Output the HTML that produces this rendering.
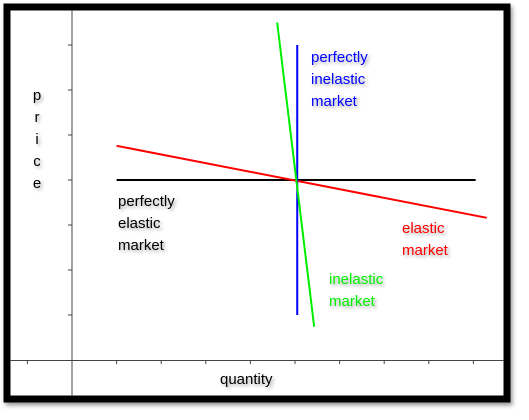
<!DOCTYPE html>
<html><head><meta charset="utf-8"><style>
body{margin:0;width:529px;height:415px;background:#fff;overflow:hidden;font-family:"Liberation Sans",sans-serif}
</style></head><body>
<svg width="529" height="415">
<defs><filter id="sh" x="-20%" y="-20%" width="140%" height="140%"><feDropShadow dx="2" dy="3" stdDeviation="2" flood-color="#000" flood-opacity="0.4"/></filter>
<filter id="ts"><feDropShadow dx="2" dy="2" stdDeviation="1.5" flood-color="#000" flood-opacity="0.35"/></filter></defs>
<rect x="7" y="7" width="500" height="392" fill="#fff" stroke="#000" stroke-width="7" filter="url(#sh)"/>
<g id="axes" stroke="#444" stroke-width="1"></g>
<g id="marks" stroke-width="2"></g>
<g id="labels" font-size="15" filter="url(#ts)"></g>
</svg>
<script>
const xTicks=[-1,1,2,3,4,5,6,7,8,9];
const yTicks=[1,2,3,4,5,6,7];
const curveNames=['perfectly-elastic','elastic','perfectly-inelastic','inelastic'];
const curveColors=['#000','#f00','#00f','#0e0'];
const curveQ=[[1,9.05],[1,9.3],[5.05,5.05],[4.6,5.43]];
const curveP=[[4,4],[4.76,3.16],[7,1],[7.5,0.74]];
const X=q=>72+q*44.6, Y=p=>360-p*45;
const NS='http://www.w3.org/2000/svg';
function mk(t,a,par){const e=document.createElementNS(NS,t);for(const k in a)e.setAttribute(k,a[k]);document.getElementById(par).appendChild(e);return e;}
let e=mk('line',{x1:72,y1:10,x2:72,y2:396},'axes');


e=mk('line',{x1:10,y1:360.5,x2:504,y2:360.5},'axes');


xTicks.forEach(q=>{const t=mk('line',{x1:X(q),y1:360,x2:X(q),y2:364},'axes');

});
yTicks.forEach(p=>{const t=mk('line',{x1:68,y1:Y(p),x2:72,y2:Y(p)},'axes');

});
curveNames.forEach((n,i)=>{const l=mk('line',{x1:X(curveQ[i][0]),y1:Y(curveP[i][0]),x2:X(curveQ[i][1]),y2:Y(curveP[i][1]),stroke:curveColors[i]},'marks');

});
const labs=[['perfectly-elastic-label','#000',118,206,['perfectly','elastic','market']],
['perfectly-inelastic-label','#00f',311,62,['perfectly','inelastic','market']],
['elastic-label','#f00',402,233,['elastic','market']],
['inelastic-label','#0e0',329,284,['inelastic','market']]];
labs.forEach(L=>{const t=mk('text',{x:L[2],y:L[3],fill:L[1]},'labels');


L[4].forEach((w,i)=>{const s=document.createElementNS(NS,'tspan');s.setAttribute('x',L[2]);s.setAttribute('dy',i?22:0);s.textContent=w;t.appendChild(s);});});
const q=mk('text',{x:220,y:384,fill:'#000'},'labels');q.textContent='quantity';


const pr=mk('text',{x:36,fill:'#000','text-anchor':'middle'},'labels');


['p','r','i','c','e'].forEach((c,i)=>{const s=document.createElementNS(NS,'tspan');s.setAttribute('x',37);s.setAttribute('y',100+i*22);s.textContent=c;pr.appendChild(s);});
</script>
</body></html>
